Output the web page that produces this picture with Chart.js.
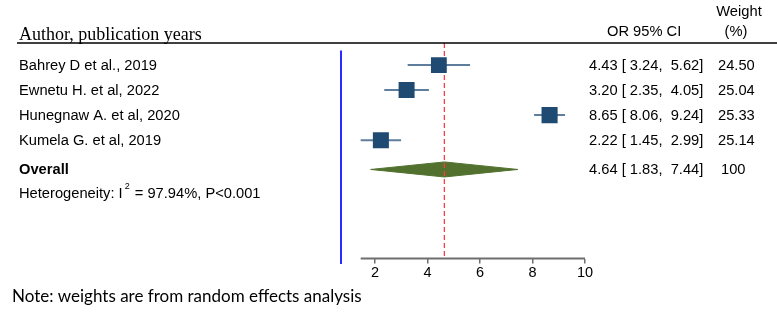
<!DOCTYPE html>
<html>
<head>
<meta charset="utf-8">
<script src="https://cdn.jsdelivr.net/npm/chart.js@4.4.1/dist/chart.umd.min.js"></script>
<style>
  body { margin: 0; background: #fff; }
  #wrap { width: 777px; height: 325px; }
</style>
</head>
<body>
<div id="wrap"><canvas id="forest" width="777" height="325"></canvas></div>
<script>
// study data
const studies = ['Bahrey D et al., 2019', 'Ewnetu H. et al, 2022', 'Hunegnaw A. et al, 2020', 'Kumela G. et al, 2019'];
const orValues = [4.43, 3.20, 8.65, 2.22];
const ciLower = [3.24, 2.35, 8.06, 1.45];
const ciUpper = [5.62, 4.05, 9.24, 2.99];
const weights = [24.50, 25.04, 25.33, 25.14];

// pooled estimate
const overallOR = 4.64;
const overallLower = 1.83;
const overallUpper = 7.44;
const overallWeight = '100';
const heterogeneityI2 = '97.94%';
const heterogeneityP = 'P<0.001';

const xTicks = [2, 4, 6, 8, 10];

// row positions on the (hidden) y scale
const studyRows = [1, 2, 3, 4];
const overallRow = 5.17;
const hetRow = 6.14;
const yTop = 0.12;
const yBottom = 8.73;
const xMin = 0.7;
const xMax = 10;
const axisStart = 1.45;

const squareColor = '#1f4a72';
const ciColor = '#5f7d9c';
const diamondColor = '#52712f';
const sans = '"Liberation Sans", Arial, sans-serif';

const datasets = [];

// squares (size from weight)
datasets.push({
    type: 'scatter',
    data: orValues.map((v, i) => ({ x: v, y: studyRows[i] })),
    pointStyle: 'rect',
    pointRadius: weights.map(w => 11.3 * Math.sqrt(w / 25)),
    backgroundColor: squareColor,
    borderColor: squareColor,
    borderWidth: 0,
    order: 0
});

// red dashed line at pooled estimate
datasets.push({
    type: 'line',
    data: [{ x: overallOR, y: yTop }, { x: overallOR, y: yBottom }],
    borderColor: '#ff3b3b',
    borderWidth: 1.3,
    borderDash: [5, 3],
    pointRadius: 0,
    fill: false,
    order: 1
});

// confidence interval whiskers
studies.forEach((s, i) => {
    datasets.push({
        type: 'line',
        data: [{ x: ciLower[i], y: studyRows[i] }, { x: ciUpper[i], y: studyRows[i] }],
        borderColor: ciColor,
        borderWidth: 2,
        pointRadius: 0,
        fill: false,
        order: 2
    });
});

// pooled diamond
datasets.push({
    type: 'line',
    data: [
        { x: overallLower, y: overallRow },
        { x: overallOR, y: overallRow - 0.3 },
        { x: overallUpper, y: overallRow },
        { x: overallOR, y: overallRow + 0.3 },
        { x: overallLower, y: overallRow }
    ],
    borderColor: diamondColor,
    borderWidth: 1,
    backgroundColor: diamondColor,
    pointRadius: 0,
    tension: 0,
    fill: 'shape',
    order: 3
});

// blue left border
datasets.push({
    type: 'line',
    data: [{ x: xMin, y: 0.42 }, { x: xMin, y: 8.95 }],
    borderColor: '#2b2bff',
    borderWidth: 2,
    pointRadius: 0,
    fill: false,
    clip: false,
    order: 4
});

// x axis line
datasets.push({
    type: 'line',
    data: [{ x: axisStart, y: yBottom }, { x: xMax, y: yBottom }],
    borderColor: '#6e6e6e',
    borderWidth: 2,
    pointRadius: 0,
    fill: false,
    clip: false,
    order: 4
});

const textPlugin = {
    id: 'forestText',
    afterDraw(chart) {
        const ctx = chart.ctx;
        const y = chart.scales.y;
        const top = chart.chartArea.top;
        ctx.save();
        ctx.fillStyle = '#000';

        // header
        ctx.font = '18px "Liberation Serif", "Times New Roman", serif';
        ctx.textAlign = 'left';
        ctx.textBaseline = 'alphabetic';
        ctx.fillText('Author, publication years', 19, top - 3);

        ctx.font = '14.7px ' + sans;
        ctx.textBaseline = 'middle';
        ctx.fillText('OR 95% CI', 607, 32);
        ctx.textAlign = 'center';
        ctx.fillText('Weight', 739, 12);
        ctx.fillText('(%)', 736, 32);

        ctx.strokeStyle = '#000';
        ctx.lineWidth = 1.5;
        ctx.beginPath();
        ctx.moveTo(17, top);
        ctx.lineTo(777, top);
        ctx.stroke();

        // rows
        ctx.textAlign = 'left';
        studies.forEach((s, i) => {
            const py = y.getPixelForValue(studyRows[i]) + 1;
            ctx.fillText(s, 19, py);
            ctx.fillText(orValues[i].toFixed(2) + ' [ ' + ciLower[i].toFixed(2) + ',  ' + ciUpper[i].toFixed(2) + ']', 589, py);
            ctx.fillText(weights[i].toFixed(2), 718, py);
        });

        const oy = y.getPixelForValue(overallRow);
        ctx.fillText(overallOR.toFixed(2) + ' [ ' + overallLower.toFixed(2) + ',  ' + overallUpper.toFixed(2) + ']', 589, oy);
        ctx.fillText(overallWeight, 721, oy);
        ctx.font = 'bold 14.7px ' + sans;
        ctx.fillText('Overall', 19, oy);

        // heterogeneity with superscript
        const hy = y.getPixelForValue(hetRow);
        ctx.font = '14.7px ' + sans;
        let hx = 19;
        const part1 = 'Heterogeneity: I';
        ctx.fillText(part1, hx, hy);
        hx += ctx.measureText(part1).width + 2;
        ctx.font = '9px ' + sans;
        ctx.fillText('2', hx, hy - 7);
        hx += ctx.measureText('2').width + 1;
        ctx.font = '14.7px ' + sans;
        ctx.fillText(' = ' + heterogeneityI2 + ', ' + heterogeneityP, hx, hy);

        // note
        ctx.font = '17px Lato, "Open Sans", sans-serif';
        ctx.fillText('Note: weights are from random effects analysis', 12, 297);
        ctx.restore();
    }
};

new Chart(document.getElementById('forest'), {
    type: 'scatter',
    data: { datasets: datasets },
    options: {
        responsive: false,
        animation: false,
        devicePixelRatio: 1,
        layout: { padding: { left: 341, right: 192, top: 43, bottom: 42 } },
        plugins: { legend: { display: false }, tooltip: { enabled: false } },
        scales: {
            x: {
                type: 'linear',
                min: xMin,
                max: xMax,
                afterBuildTicks: (scale) => { scale.ticks = xTicks.map(v => ({ value: v })); },
                grid: { drawOnChartArea: false, drawTicks: true, tickLength: 5, color: '#6e6e6e', lineWidth: 1.5 },
                border: { display: false },
                ticks: {
                    autoSkip: false,
                    maxRotation: 0,
                    padding: 1,
                    color: '#000',
                    font: { family: sans, size: 14.5 }
                }
            },
            y: {
                type: 'linear',
                reverse: true,
                min: yTop,
                max: yBottom,
                display: false
            }
        }
    },
    plugins: [textPlugin]
});
</script>
</body>
</html>
